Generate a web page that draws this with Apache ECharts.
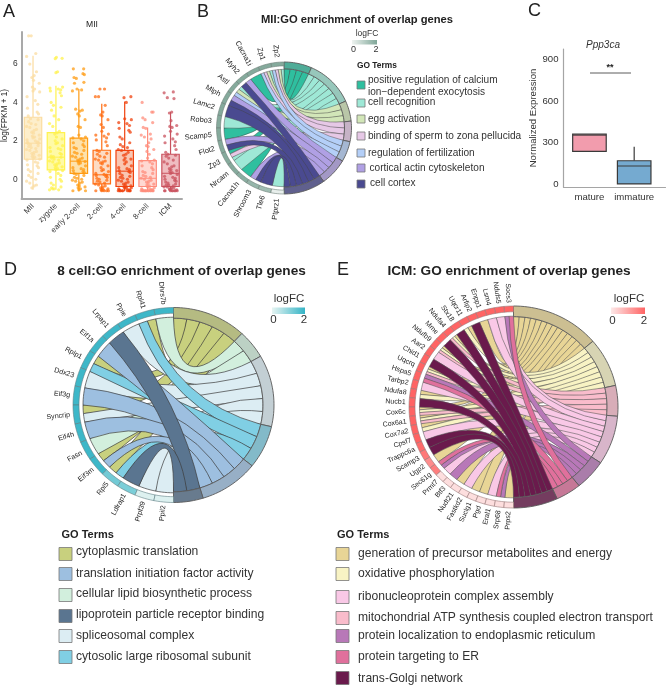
<!DOCTYPE html>
<html><head><meta charset="utf-8">
<style>html,body{margin:0;padding:0;background:#fff}#c{width:669px;height:689px}</style>
<script src="https://cdn.jsdelivr.net/npm/echarts@6/dist/echarts.min.js"></script>
</head><body><div id="c"></div>
<script>
// ---------- Panel A data ----------
const stages = ['MII','zygote','early 2-cell','2-cell','4-cell','8-cell','ICM'];
// min, q1, median, q3, max
const stageBoxes = [
 [-0.55,1.04,1.88,3.23,6.43],[-0.55,0.49,1.15,2.43,4.87],[-0.62,0.31,0.94,2.14,4.7],
 [-0.62,-0.24,0.23,1.51,3.93],[-0.62,-0.38,0.42,1.5,4.05],[-0.62,-0.38,0.05,0.97,2.7],[-0.62,-0.38,0.31,1.3,3.5]];
const ptsMII=[7.47,7.47,6.55,6.4,6.0,5.6,5.4,5.3,5.15,5.0,4.8,4.7,4.6,4.55,4.3,4.1,3.9,3.7,3.5,3.4,3.3,3.15,3.1,3.0,2.9,2.85,2.75,2.7,2.6,2.55,2.45,2.4,2.3,2.25,2.2,2.15,2.1,2.05,2.0,1.95,1.92,1.9,1.88,1.85,1.8,1.75,1.7,1.65,1.6,1.55,1.5,1.45,1.4,1.35,1.3,1.25,1.2,1.15,1.1,1.05,1.0,0.9,0.85,0.75,0.7,0.6,0.5,0.4,0.3,0.2,0.1,0.0,-0.1,-0.2,-0.3,-0.35,-0.45];
const ptsZygote=[6.35,6.3,6.28,5.6,5.55,4.8,4.75,4.7,4.65,4.6,4.5,4.35,4.0,3.85,3.75,3.6,3.3,3.1,2.9,2.75,2.5,2.42,2.35,2.2,2.1,2.0,1.9,1.85,1.75,1.65,1.6,1.55,1.45,1.35,1.3,1.2,1.18,1.15,1.1,1.05,1.0,.95,.9,.85,.8,.75,.7,.65,.6,.55,.5,.45,.4,.3,.2,.1,0,-.1,-.2,-.3,-.4,-.45,-.5,-.55,-.55,-.5];
const ptsEarly=[5.75,5.75,5.5,5.45,5.3,5.25,5.05,5.0,4.7,4.65,4.6,3.65,3.6,3.55,3.4,3.3,3.1,2.75,2.7,2.3,2.2,2.15,2.1,2.0,1.9,1.8,1.7,1.65,1.6,1.5,1.4,1.35,1.3,1.2,1.15,1.1,1.05,1,.95,.92,.9,.85,.8,.7,.6,.55,.5,.45,.4,.35,.3,.25,.2,.1,.05,0,-.05,-.1,-.15,-.2,-.3,-.35,-.4,-.45,-.5,-.55,-.6,-.6];
const pts2cell=[4.7,4.7,4.3,4.3,3.85,3.5,3.35,3.3,3.1,2.85,2.7,2.5,2.35,2.3,2.25,2.15,2.05,1.95,1.75,1.5,1.45,1.35,1.3,1.2,1.15,1.05,1,.95,.9,.85,.8,.7,.6,.5,.45,.4,.3,.25,.22,.2,.15,.1,.05,0,-.05,-.1,-.15,-.2,-.25,-.3,-.35,-.4,-.45,-.5,-.5,-.55,-.55,-.6,-.6,-.6,-.6,-.6];
const pts4cell=[4.3,4.25,4.0,3.15,3.1,2.95,2.9,2.8,2.65,2.55,2.45,2.2,2.1,1.9,1.8,1.7,1.65,1.55,1.5,1.4,1.3,1.25,1.1,1.05,1,.9,.8,.7,.6,.55,.5,.45,.4,.35,.3,.2,.15,.1,.05,0,-.05,-.1,-.15,-.2,-.25,-.3,-.35,-.4,-.4,-.45,-.45,-.5,-.5,-.55,-.55,-.6,-.6,-.6,-.6,-.6,-.6,-.6,-.6,-.6];
const pts8cell=[4.0,3.5,3.5,3.2,3.1,2.95,2.7,2.65,2.35,2.3,2.2,2.1,1.9,1.75,1.7,1.55,1.45,1.3,1.1,1.0,.95,.9,.8,.7,.6,.5,.4,.35,.3,.2,.15,.1,.05,0,-.05,-.1,-.15,-.2,-.25,-.3,-.35,-.4,-.45,-.5,-.5,-.55,-.55,-.55,-.6,-.6,-.6,-.6,-.6,-.6,-.6,-.6,-.6,-.6,-.6,-.6,-.6];
const ptsICM=[4.55,4.5,4.25,4.2,3.5,3.45,3.05,2.8,2.75,2.7,2.5,2.35,2.25,2.1,1.95,1.9,1.75,1.55,1.4,1.3,1.25,1.2,1.1,1,.9,.8,.7,.65,.55,.5,.45,.4,.35,.3,.25,.15,.1,.05,0,-.05,-.1,-.15,-.2,-.25,-.3,-.3,-.35,-.4,-.4,-.45,-.45,-.5,-.5,-.55,-.55,-.6,-.6,-.6,-.6,-.6,-.6,-.6,-.6];
const stagePoints=[ptsMII,ptsZygote,ptsEarly,pts2cell,pts4cell,pts8cell,ptsICM];
const jitter=[-.19,.02,.21,-.08,.27,-.24,.12,-.03,.18,-.28,.07,.24,-.14,.0,-.21,.15,.29,-.11,.05,-.26,.22,-.05,.1];
const stageStroke=['#fbdca0','#fff24e','#ff9c14','#ff6c12','#f0420e','#ff8d7c','#c9525e'];
const stageFill=['#fdeecb','#fffaa6','#fde2ac','#fddcc4','#f9c6b2','#ffd8d2','#efbcc0'];

// ---------- Panel C data ----------
const cCats=['mature','immature'];
const cBoxes=[[235,238,355,362,362],[4,4,133,171,271]];
const cStroke=['#3a3a3a','#3a3a3a'], cFills=['#f29cad','#75aad0'];

// ---------- Panel B data ----------
const bGenes=['Zp2','Zp1','Cacna1i','Myh2','Astl','Mlph','Lamc2','Robo3','Scamp5','Flot2','Zp3','Nrcam','Cacna1h','Shroom3','Tle6','Ptprz1'];
const bLogFC=[1.9,1.9,1.9,1.9,1.9,1.9,1.9,1.9,1.9,1.9,1.9,1.9,1.8,1.6,1.4,0.1];
const bTerms=['positive regulation of calcium\nion\u2212dependent exocytosis','cell recognition','egg activation','binding of sperm to zona pellucida','regulation of fertilization','cortical actin cytoskeleton','cell cortex'];
const bColors=['#2fbf9f','#9ee8d6','#d2e6b8','#e6c8e6','#b4cff8','#b0a0e4','#4a4a90'];
const bMembers=[[1,2,3,4],[1,2,3,4],[0],[5,6],[1,2,4],[5,6],[6],[1],[0],[5,6],[0,3,1],[1],[0],[5,6],[6],[1]];
const bRing=[0,1,2,3,4,5,6];

// ---------- Panel D data ----------
const dGenes=['Dhrs7b','Rpl41','Ppie','Lrpap1','Eif1a','Rplp1','Ddx23','Eif3g','Syncrip','Eif4h','Fasn','Eif3m','Rpl5','Ldlrap1','Prpf39','Ppil2'];
const dLogFC=[1.9,1.9,1.9,1.9,1.9,1.9,1.9,1.9,1.9,1.9,1.9,1.9,1.3,1.2,0.1,0.1];
const dTerms=['cytoplasmic translation','translation initiation factor activity','cellular lipid biosynthetic process','lipoprotein particle receptor binding','spliceosomal complex','cytosolic large ribosomal subunit'];
const dColors=['#c8d07e','#9dbfe0','#d2efdd','#5a7590','#dcedf3','#80cfe4'];
const dMembers=[[2],[0,5],[4],[3],[1],[0,5],[4],[1],[0,4],[1],[2],[0,1],[0,5],[3],[4],[4]];
const dRing=[0,2,4,5,1,3];

// ---------- Panel E data ----------
const eGenes=['Socs3','Ndufs5','Lsm4','Enpp1','Arfip2','Uqcr11','Stx18','Ndufa4','Mme','Ndufb9','Aar2','Chid1','Uqcrq','Hspa5','Tarbp2','Ndufa8','Nucb1','Cox6c','Cox6a1','Cox7a2','Cpsf7','Trappc6a','Scamp3','Ugp2','Sec61g','Prmt7','Btf3','Nudt21','Fastkd2','Suclg1','Pgd','Eral1','Srp68','Prps2'];
const eLogFC=[2,2,2,2,2,2,2,2,2,2,2,2,2,2,2,2,2,2,2,2,2,1.9,1.7,1.4,1.6,.15,.15,.15,.15,.15,.15,.15,.15,.15];
const eTerms=['generation of precursor metabolites and energy','oxidative phosphorylation','ribonucleoprotein complex assembly','mitochondrial ATP synthesis coupled electron transport','protein localization to endoplasmic reticulum','protein targeting to ER','trans-Golgi network'];
const eColors=['#e8d596','#f8f3c4','#f9c8e6','#f9bccb','#b878b8','#e0709c','#6a1a4c'];
const eMembers=[[5,4],[2],[2],[0],[6],[0,1],[6],[0,1,3],[6],[0,1,3],[2],[6],[0,1,3],[4,5],[2],[0,1],[6],[0,1,3],[0,1,3],[0,1],[2],[6],[6],[0],[5,4],[2],[4],[0],[2],[0],[0],[2],[5,4],[0]];
const eRing=[0,1,3,2,4,5,6];

const FONT='"Liberation Sans"';
const txt=(text,x,y,size,o={})=>({type:'text',x,y,rotation:o.rot||0,silent:true,style:{text,fill:o.fill||'#222',
  font:`${o.style||''} ${o.weight||'normal'} ${size}px ${FONT}`,textAlign:o.align||'left',textVerticalAlign:'middle',align:o.align||'left',verticalAlign:'middle',lineHeight:o.lh}});

// Chord diagram built from gene / term membership arrays.
function chordSeries(c){
  const RAD=Math.PI/180;
  const P=(deg,r)=>{const k=r/c.R; return [c.cx+c.rx*k*Math.sin(deg*RAD), c.cy-c.ry*k*Math.cos(deg*RAD)];};
  const f=p=>p[0].toFixed(2)+' '+p[1].toFixed(2)+' ';
  const arc=(a,b,r)=>{const n=Math.max(1,Math.ceil(Math.abs(b-a)/2));let s='';for(let i=0;i<=n;i++){s+='L'+f(P(a+(b-a)*i/n,r));}return s;};
  const nLinks=c.members.reduce((s,m)=>s+m.length,0), unit=180/nLinks, gSpan=180/c.genes.length;
  const counts=c.terms.map((_,t)=>c.members.filter(m=>m.includes(t)).length);
  const termStart={};let acc=0;c.ring.forEach(t=>{termStart[t]=acc;acc+=counts[t]*unit;});
  const used=c.terms.map(()=>0), links=[];
  c.members.forEach((m,g)=>{
    const gTop=360-g*gSpan, w=gSpan/m.length;
    m.forEach((t,j)=>{
      const a1=gTop-j*w,a0=a1-w,b0=termStart[t]+used[t]*unit,b1=b0+unit;used[t]++;
      links.push({t,a0,a1,b0,b1});
    });
  });
  const order=[];c.ring.forEach(t=>links.forEach((l,i)=>{if(l.t===t)order.push(i);}));
  const ribbon={type:'custom',coordinateSystem:'none',silent:true,data:order.map(i=>[i]),
    renderItem:(p,api)=>{const l=links[api.value(0)];
      const A0=P(l.a0,c.rG),A1=P(l.a1,c.rG),B0=P(l.b0,c.rT),B1=P(l.b1,c.rT);
      // two edge midpoints; the control points keep the ribbon's width through the middle
      const dx=((A1[0]+B0[0])-(B1[0]+A0[0]))/2, dy=((A1[1]+B0[1])-(B1[1]+A0[1]))/2, g=c.keep/2;
      const c1=[c.cx+dx*g,c.cy+dy*g], c2=[c.cx-dx*g,c.cy-dy*g];
      const d='M'+f(A0)+arc(l.a0,l.a1,c.rG)+'Q'+f(c1)+f(B0)+arc(l.b0,l.b1,c.rT)+'Q'+f(c2)+f(A0)+'Z';
      return {type:'path',shape:{pathData:d},style:{fill:c.colors[l.t],stroke:c.rStroke,lineWidth:c.lw}};}};
  const seg=(a,b,r0,r1)=>'M'+f(P(a,r1))+arc(a,b,r1)+arc(b,a,r0)+'Z';
  const terms={type:'custom',coordinateSystem:'none',silent:true,data:c.ring.map(t=>[t]),
    renderItem:(p,api)=>{const t=api.value(0);
      return {type:'path',shape:{pathData:seg(termStart[t],termStart[t]+counts[t]*unit,c.rT,c.R)},
        style:{fill:echarts.color.lerp(c.mix,[c.colors[t],'#8a8a8a']),stroke:'#5a5a5a',lineWidth:.9}};}};
  const genes={type:'custom',coordinateSystem:'none',silent:true,data:c.genes.map((_,i)=>[i,c.logFC[i]]),
    renderItem:(p,api)=>{const i=api.value(0);const a1=360-i*gSpan,a0=a1-gSpan,m=(a0+a1)/2;
      const col=echarts.color.lerp(api.value(1)/2,[c.low,c.high]);const lp=P(m,c.R+c.labGap);
      const th=m*RAD,rot=Math.atan2(-Math.cos(th),-Math.sin(th));
      return {type:'group',children:[
        {type:'path',shape:{pathData:seg(a0,a1,c.rGene,c.R)},style:{fill:col,stroke:c.geneStroke,lineWidth:.6}},
        {type:'text',x:lp[0],y:lp[1],rotation:rot,style:{text:c.genes[i],fill:'#222',font:`${c.labSize}px ${FONT}`,align:'right',verticalAlign:'middle',textAlign:'right',textVerticalAlign:'middle'}}
      ]};}};
  return [ribbon,terms,genes];
}

function legendBar(x,y,w,h,low,high,tx,ty,ts,zy,zs){
  return [txt('logFC',tx,ty,ts,{align:'center',fill:'#333'}),
   {type:'rect',silent:true,shape:{x,y,width:w,height:h},style:{fill:new echarts.graphic.LinearGradient(0,0,1,0,[{offset:0,color:low},{offset:1,color:high}])}},
   txt('0',x+1.5,zy,zs,{align:'center',fill:'#333'}),txt('2',x+w-1,zy,zs,{align:'center',fill:'#333'})];
}
function legendSwatches(terms,colors,sx,ss,tx,ys,tys,size,txs){
  const out=[];terms.forEach((t,i)=>{
    out.push({type:'rect',silent:true,shape:{x:sx,y:ys[i]-ss/2,width:ss,height:ss},style:{fill:colors[i],stroke:'#777',lineWidth:.8}});
    out.push(txt(t,txs?txs[i]:tx,tys[i],size,{fill:'#333',lh:size+2}));
  });return out;
}

const chordB={cx:284,cy:128,R:67.5,rx:67.5,ry:66,rT:60.5,rG:60,rGene:63.5,keep:1,genes:bGenes,logFC:bLogFC,terms:bTerms,colors:bColors,members:bMembers,ring:bRing,lw:.45,rStroke:'#444',mix:.35,low:'#eef3f0',high:'#7fa698',geneStroke:'#6f7f78',labGap:5,labSize:7.4};
const chordD={cx:173.5,cy:405,R:100.5,rx:100.5,ry:97.5,rT:89.5,rG:90.5,rGene:94.5,keep:1,genes:dGenes,logFC:dLogFC,terms:dTerms,colors:dColors,members:dMembers,ring:dRing,lw:.7,rStroke:'#3c3c3c',mix:.3,low:'#e6f4f2',high:'#34b4c6',geneStroke:'#5f7f85',labGap:3.5,labSize:7.1};
const chordE={cx:513.5,cy:407,R:104.5,rx:104.5,ry:101,rT:93.5,rG:94,rGene:98.5,keep:1,genes:eGenes,logFC:eLogFC,terms:eTerms,colors:eColors,members:eMembers,ring:eRing,lw:.55,rStroke:'#555',mix:.3,low:'#fde8e8',high:'#ff6464',geneStroke:'#9a7a7a',labGap:3.5,labSize:7};

const axisCommon={splitLine:{show:false},axisTick:{show:false},axisLine:{onZero:false,lineStyle:{color:'#a9a9a9',width:2}},nameTextStyle:{fontFamily:FONT,color:'#222'}};
function boxRender(strokes,fills,bw,lw,medW){
  return (p,api)=>{
    const i=api.value(0),x=api.coord([i,0])[0],w=api.size([bw,0])[0];
    const y=k=>api.coord([0,api.value(k)])[1];
    const ln=(x1,y1,x2,y2,s,lwd)=>({type:'line',shape:{x1,y1,x2,y2},style:{stroke:s,lineWidth:lwd}});
    const s=strokes[i],f=fills[i];
    return {type:'group',children:[
      ln(x,y(1),x,y(2),s,lw),ln(x,y(4),x,y(5),s,lw),
      {type:'rect',shape:{x:x-w/2,y:y(4),width:w,height:y(2)-y(4)},style:{fill:f,stroke:s,lineWidth:lw}},
      ln(x-w/2,y(3),x+w/2,y(3),s,medW)
    ]};
  };
}
const stageScatter=stagePoints.map((vals,i)=>({type:'scatter',xAxisIndex:0,yAxisIndex:0,silent:true,symbolSize:3.2,z:4,
  itemStyle:{color:stageStroke[i],opacity:.75},data:vals.map((v,j)=>[i+jitter[(j*3+i)%jitter.length],v])}));

const graphics=[
 txt('A',3,12,18),txt('B',197,12,18),txt('C',528,11,18),txt('D',4,270,18),txt('E',337,270,18),
 txt('MII',92,25,8.6,{align:'center'}),
 txt('MII:GO enrichment of overlap genes',357,20,11.2,{align:'center',weight:'bold'}),
 txt('8 cell:GO enrichment of overlap genes',181.5,271,13.6,{align:'center',weight:'bold'}),
 txt('ICM: GO enrichment of overlap genes',509,271,13.6,{align:'center',weight:'bold'}),
 txt('Ppp3ca',603,45,10,{align:'center',style:'italic',fill:'#333'}),
 {type:'line',silent:true,shape:{x1:590,y1:73,x2:631,y2:73},style:{stroke:'#333',lineWidth:.8}},
 txt('**',610,68,9,{align:'center',weight:'bold'}),
 ...legendBar(352,40,25,4.5,'#eef3f0','#7fa698',367,34,8.5,50,9),
 txt('GO Terms',357,66,8.4,{weight:'bold'}),
 ...legendSwatches(bTerms,bColors,357,8,368,[85,103,119,136,153,168,184],[86,102,119,136,153,168,183],10.1,[368,368,368,368,368,369.5,370]),
 ...legendBar(272,307.5,33,6.5,'#e6f4f2','#34b4c6',289,299,11.5,320,11.5),
 ...legendBar(611,307.5,34,6.5,'#fde8e8','#ff6464',629,299,11.5,321,11.5),
 txt('GO Terms',61.5,535,11,{weight:'bold'}),
 txt('GO Terms',337,535,11,{weight:'bold'}),
 ...legendSwatches(dTerms,dColors,59,13,76,[554,574,595,616,636,657],[552,574,594,615,636,657],12.1),
 ...legendSwatches(eTerms,eColors,336,13,358,[554,574,597,618,636,657,678],[554,574,597,618,636,657,679],12.1)
];

const option={animation:false,backgroundColor:'#fff',textStyle:{fontFamily:FONT},
 grid:[{left:21,top:32,width:161,height:167},{left:563.5,top:49,width:102,height:138}],
 xAxis:[
  {...axisCommon,gridIndex:0,type:'value',min:-0.5,max:6.5,
   axisLabel:{customValues:[0,1,2,3,4,5,6],formatter:v=>stages[v],rotate:45,fontSize:7.8,color:'#333',margin:6,fontFamily:FONT,hideOverlap:false,showMinLabel:true,showMaxLabel:true}},
  {...axisCommon,gridIndex:1,type:'value',min:-0.58,max:1.7,axisLine:{onZero:false,lineStyle:{color:'#a5a5a5',width:1.2}},
   axisLabel:{customValues:[0,1],formatter:v=>cCats[v],fontSize:9.6,color:'#333',margin:5,fontFamily:FONT}}],
 yAxis:[
  {...axisCommon,gridIndex:0,type:'value',min:-1.03,max:7.67,name:'log(FPKM + 1)',nameLocation:'middle',nameGap:7.5,nameTextStyle:{fontFamily:FONT,fontSize:8.2,color:'#222'},
   axisLabel:{customValues:[0,2,4,6],fontSize:8.4,color:'#333',margin:4,fontFamily:FONT}},
  {...axisCommon,gridIndex:1,type:'value',min:-18,max:975,name:'Normalized Expression',nameLocation:'middle',nameGap:19,nameTextStyle:{fontFamily:FONT,fontSize:9.6,color:'#333'},
   axisLine:{onZero:false,lineStyle:{color:'#a5a5a5',width:1.2}},axisLabel:{customValues:[0,300,600,900],fontSize:9.6,color:'#333',margin:5,fontFamily:FONT}}],
 graphic:{elements:graphics},
 series:[
  {type:'custom',xAxisIndex:0,yAxisIndex:0,silent:true,z:3,clip:false,data:stageBoxes.map((b,i)=>[i,...b]),
   renderItem:boxRender(stageStroke,stageFill,.76,1.2,1),encode:{x:0,y:[1,2,3,4,5]}},
  ...stageScatter,
  {type:'custom',xAxisIndex:1,yAxisIndex:1,silent:true,z:3,data:cBoxes.map((b,i)=>[i,...b]),
   renderItem:boxRender(cStroke,cFills,.75,1.2,1),encode:{x:0,y:[1,2,3,4,5]}},
  ...chordSeries(chordB),...chordSeries(chordD),...chordSeries(chordE)
 ]};
const chart=echarts.init(document.getElementById('c'),null,{renderer:'canvas'});
chart.setOption(option);
</script></body></html>
